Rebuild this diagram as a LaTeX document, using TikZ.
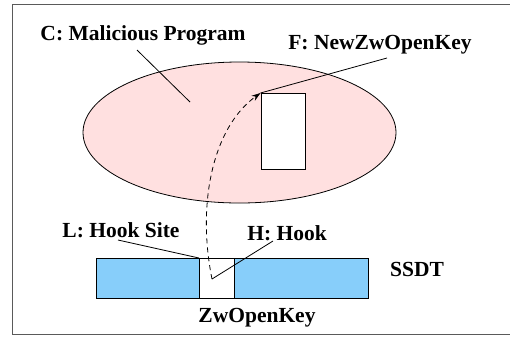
\documentclass[tikz,border=0pt]{standalone}
\usepackage{fontspec}
\setmainfont{Liberation Serif}
\usetikzlibrary{arrows.meta}
\definecolor{progpink}{RGB}{255,224,224}
\definecolor{ssdtblue}{RGB}{135,206,250}
\definecolor{framegray}{RGB}{90,90,90}
\begin{document}
\begin{tikzpicture}[x=1pt,y=-1pt,line width=0.8pt,
  lbl/.style={font=\fontsize{21.5}{25}\selectfont\bfseries, inner sep=0pt},
  leader/.style={line width=0.8pt}]
\useasboundingbox (0,0) rectangle (510,338);
\draw[framegray, line width=1pt] (12.5,4.5) rectangle (520,334);
% malicious program and its hook function
\draw[fill=progpink] (239.5,132.5) ellipse (156.5 and 70.5);
\node[draw, fill=white, minimum width=44.5pt, minimum height=76pt, inner sep=0pt,
  anchor=north west] (newkey) at (260.5,93) {};
% ssdt table
\draw[fill=ssdtblue] (96,258) rectangle (368,298);
\node[draw, fill=white, minimum width=35pt, minimum height=40pt, inner sep=0pt,
  anchor=north west] (site) at (199,258) {};
% labels
\node[lbl] (prog) at (143,35) {C: Malicious Program};
\node[lbl] (fnew) at (380,45) {F: NewZwOpenKey};
\node[lbl] (lsite) at (121,230) {L: Hook Site};
\node[lbl] (hhook) at (287,233) {H: Hook};
\node[lbl] (ssdt) at (417,269) {SSDT};
\node[lbl] (zwkey) at (257,318) {ZwOpenKey};
% leader lines
\coordinate (progA) at (137,50);
\coordinate (progB) at (190,102);
\coordinate (fnewA) at (387,58);
\coordinate (lsiteA) at (118,240);
\coordinate (hookA) at (273,241);
\coordinate (hookB) at (212,279);
\draw[leader] (progA) -- (progB);
\draw[leader] (fnewA) -- (newkey.north west);
\draw[leader] (lsiteA) -- (site.north west);
\draw[leader] (hookA) -- (hookB);
% redirected call
\draw[dash pattern=on 5pt off 4pt, -{Stealth[length=9pt,width=6pt]}]
  (hookB) .. controls (197,205) and (212,128) .. (newkey.north west);
\end{tikzpicture}
\end{document}
